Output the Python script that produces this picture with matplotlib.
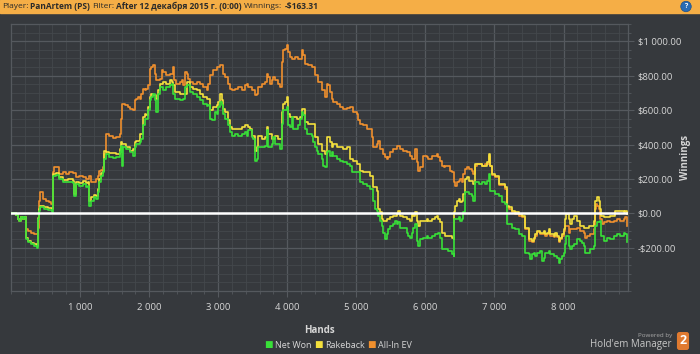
import matplotlib.pyplot as plt
from matplotlib.ticker import MultipleLocator, FuncFormatter, FixedLocator

plt.rcParams['font.family'] = ['Open Sans', 'DejaVu Sans']

# Net Won
net_hands = [0, 72, 97, 121, 145, 169, 193, 217, 242, 290, 338, 377, 396, 411, 420, 483, 531, 589,
             604, 652, 700, 749, 821, 894, 918, 942, 990, 1038, 1087, 1120, 1135, 1159, 1208, 1232,
             1256, 1280, 1304, 1328, 1352, 1376, 1425, 1478, 1527, 1575, 1599, 1609, 1623, 1672,
             1720, 1768, 1792, 1816, 1865, 1889, 1913, 1937, 1985, 2010, 2034, 2058, 2082, 2106,
             2130, 2155, 2203, 2251, 2299, 2324, 2348, 2372, 2444, 2493, 2517, 2541, 2589, 2638,
             2686, 2734, 2782, 2831, 2855, 2879, 2903, 2951, 2976, 3000, 3024, 3049, 3073, 3097,
             3145, 3169, 3194, 3242, 3290, 3338, 3387, 3411, 3435, 3483, 3507, 3532, 3556, 3580,
             3652, 3677, 3701, 3725, 3773, 3797, 3821, 3894, 3918, 3942, 3990, 4015, 4039, 4063,
             4087, 4160, 4184, 4208, 4232, 4256, 4280, 4353, 4377, 4401, 4425, 4449, 4498, 4522,
             4546, 4571, 4595, 4619, 4643, 4667, 4716, 4764, 4812, 4860, 4909, 4933, 5005, 5054,
             5102, 5150, 5199, 5247, 5271, 5295, 5319, 5343, 5368, 5392, 5416, 5440, 5464, 5488,
             5537, 5561, 5585, 5609, 5633, 5706, 5730, 5754, 5778, 5802, 5826, 5851, 5875, 5899,
             5923, 5971, 6020, 6044, 6093, 6141, 6189, 6213, 6238, 6286, 6334, 6382, 6407, 6421,
             6479, 6503, 6527, 6551, 6566, 6624, 6672, 6696, 6721, 6769, 6817, 6865, 6890, 6914,
             6938, 7010, 7059, 7107, 7155, 7179, 7252, 7300, 7348, 7397, 7445, 7493, 7517, 7542,
             7565, 7589, 7614, 7662, 7686, 7710, 7734, 7783, 7807, 7855, 7903, 7928, 7952, 7976,
             8000, 8024, 8039, 8073, 8097, 8121, 8145, 8193, 8242, 8266, 8290, 8314, 8386, 8435,
             8459, 8483, 8531, 8546, 8580, 8628, 8676, 8725, 8773, 8821, 8869, 8893, 8918]
net_won = [0, -10, -33, -43, -23, -33, -23, -150, -165, -179, -188, -198, -33, 16, 35, 25, 21, 10,
           219, 223, 200, 181, 184, 177, 103, 171, 161, 171, 151, 161, 45, 74, 93, 84,
           122, 181, 219, 239, 317, 346, 326, 320, 326, 355, 394, 278, 385, 375,
           355, 336, 385, 404, 414, 433, 511, 550, 598, 656, 676, 695, 656, 588,
           695, 734, 715, 734, 744, 754, 695, 666, 656, 666, 734, 744, 705, 695,
           676, 656, 637, 623, 627, 550, 540, 588, 579, 618, 647, 627, 579, 550,
           511, 472, 452, 462, 452, 462, 472, 452, 482, 443, 433, 307, 317, 385,
           385, 394, 482, 385, 404, 443, 404, 375, 520, 598, 618, 511, 501, 559,
           491, 511, 550, 588, 569, 491, 462, 452, 414, 385, 365, 346, 317, 278,
           268, 355, 365, 336, 355, 336, 317, 307, 297, 287, 278, 239, 239, 181,
           171, 161, 142, 74, 25, 16, -14, -43, -72, -111, -150, -120, -91, -72,
           -62, -43, -62, -52, -82, -82, -111, -130, -140, -111, -82, -62, -159, -188,
           -150, -140, -130, -140, -130, -120, -111, -140, -208, -208, -218, -237, -247, -33,
           -23, -43, -33, 6, 122, 113, 103, 74, 181, 171, 181, 171, 190, 229,
           132, 113, 103, 64, 54, -62, -82, -91, -120, -130, -227, -237, -266, -237,
           -227, -247, -227, -218, -276, -256, -227, -218, -237, -247, -256, -285, -266, -247,
           -227, -179, -130, -188, -208, -188, -179, -150, -159, -169, -188, -227, -208, -188,
           -72, -52, -43, -130, -159, -140, -150, -130, -120, -130, -111, -120, -163.31]

# Rakeback
rb_hands = [0, 72, 97, 121, 145, 169, 193, 217, 242, 290, 338, 377, 396, 411, 420, 483, 531, 589,
            604, 652, 700, 749, 821, 894, 918, 942, 990, 1038, 1087, 1120, 1135, 1159, 1208, 1232,
            1256, 1280, 1304, 1328, 1352, 1376, 1425, 1478, 1527, 1575, 1599, 1609, 1623, 1672,
            1720, 1768, 1792, 1816, 1865, 1889, 1913, 1937, 1961, 1985, 2010, 2034, 2058, 2106,
            2130, 2155, 2203, 2251, 2299, 2324, 2348, 2372, 2444, 2493, 2541, 2589, 2638, 2686,
            2734, 2782, 2831, 2879, 2927, 2976, 3000, 3024, 3049, 3073, 3097, 3145, 3169, 3194,
            3242, 3290, 3338, 3387, 3435, 3459, 3483, 3532, 3556, 3580, 3628, 3677, 3701, 3725,
            3773, 3821, 3869, 3918, 3942, 3966, 3990, 4015, 4039, 4087, 4136, 4184, 4208, 4256,
            4304, 4353, 4401, 4449, 4498, 4546, 4571, 4595, 4619, 4643, 4667, 4716, 4764, 4812,
            4860, 4909, 4957, 5005, 5054, 5102, 5150, 5199, 5247, 5295, 5319, 5343, 5368, 5392,
            5440, 5488, 5537, 5585, 5609, 5633, 5682, 5730, 5778, 5802, 5826, 5851, 5875, 5899,
            5923, 6020, 6044, 6093, 6141, 6165, 6189, 6213, 6238, 6286, 6382, 6407, 6421, 6431,
            6455, 6479, 6503, 6527, 6551, 6576, 6600, 6624, 6696, 6721, 6817, 6890, 6914, 6938,
            6962, 7010, 7059, 7155, 7179, 7204, 7252, 7300, 7348, 7397, 7445, 7493, 7542, 7565,
            7589, 7614, 7662, 7710, 7734, 7758, 7783, 7807, 7855, 7879, 7903, 7928, 7952, 7976,
            8000, 8024, 8039, 8073, 8097, 8121, 8145, 8193, 8242, 8290, 8362, 8435, 8449, 8483,
            8507, 8531, 8546, 8580, 8628, 8676, 8749, 8821, 8869, 8893, 8918]
rakeback = [0, -10, -33, -40, -23, -33, -23, -140, -160, -172, -180, -190, -25, 25, 41, 35, 33, 25,
            229, 235, 210, 196, 200, 190, 113, 184, 177, 188, 177, 181, 74, 93, 107, 103,
            142, 200, 235, 249, 365, 355, 351, 351, 346, 375, 414, 404, 404, 385,
            365, 375, 414, 423, 462, 462, 559, 579, 569, 618, 676, 695, 686, 666,
            715, 754, 763, 754, 773, 763, 744, 705, 695, 695, 763, 734, 724, 715,
            695, 676, 666, 598, 618, 627, 647, 695, 656, 608, 588, 540, 501, 491,
            491, 491, 501, 511, 501, 491, 452, 365, 385, 452, 433, 443, 501, 462,
            433, 452, 433, 588, 637, 647, 676, 579, 559, 559, 550, 559, 608, 530,
            520, 520, 443, 404, 365, 346, 443, 443, 414, 385, 404, 385, 385, 375,
            385, 317, 307, 287, 249, 239, 239, 219, 151, 132, 25, 6, -33, -43,
            -33, -23, -14, -4, 16, -14, -23, -33, -43, -4, -14, 6, -43, -72,
            -43, -33, -43, -33, -23, -14, -33, -52, -111, -130, -140, -150, 6, 45,
            74, 84, 64, 74, 113, 200, 210, 190, 171, 287, 278, 297, 346, 278,
            229, 219, 171, 151, 45, 35, 16, 6, -4, -14, -82, -150, -159, -140,
            -120, -101, -111, -101, -120, -111, -91, -120, -130, -111, -130, -159, -140, -120,
            -91, -33, -4, -33, -62, -33, -14, -43, -72, -82, -72, -43, 74, 93,
            74, 25, -14, -23, -23, -14, 16, 16, 6, 16, -4]

# All-In EV
ev_hands = [0, 72, 97, 121, 145, 169, 193, 217, 242, 290, 338, 377, 396, 411, 420, 459, 507, 555,
            580, 604, 628, 676, 700, 749, 797, 845, 894, 942, 990, 1038, 1087, 1135, 1159, 1208,
            1232, 1256, 1280, 1304, 1328, 1352, 1376, 1425, 1478, 1527, 1575, 1599, 1614, 1647,
            1696, 1720, 1768, 1792, 1816, 1841, 1865, 1889, 1913, 1937, 1961, 1985, 2010, 2034,
            2058, 2082, 2106, 2155, 2179, 2203, 2251, 2299, 2348, 2362, 2396, 2444, 2469, 2493,
            2517, 2541, 2565, 2589, 2638, 2686, 2734, 2782, 2831, 2855, 2879, 2927, 2976, 3000,
            3024, 3049, 3073, 3097, 3145, 3169, 3194, 3242, 3290, 3338, 3387, 3411, 3435, 3483,
            3532, 3556, 3580, 3628, 3677, 3701, 3725, 3749, 3773, 3797, 3821, 3869, 3894, 3918,
            3942, 3966, 3990, 4015, 4039, 4063, 4111, 4160, 4208, 4232, 4256, 4304, 4353, 4401,
            4449, 4498, 4546, 4571, 4595, 4619, 4643, 4667, 4716, 4764, 4812, 4860, 4909, 4957,
            5005, 5029, 5054, 5102, 5150, 5199, 5223, 5247, 5295, 5319, 5343, 5392, 5416, 5440,
            5464, 5488, 5537, 5585, 5633, 5682, 5730, 5778, 5802, 5851, 5875, 5899, 5923, 5971,
            6020, 6044, 6093, 6141, 6165, 6189, 6213, 6238, 6262, 6286, 6334, 6358, 6382, 6407,
            6431, 6455, 6479, 6503, 6527, 6551, 6576, 6600, 6624, 6672, 6696, 6721, 6745, 6769,
            6817, 6865, 6914, 6938, 6962, 7010, 7059, 7155, 7179, 7204, 7252, 7300, 7348, 7397,
            7445, 7493, 7542, 7565, 7589, 7614, 7662, 7710, 7734, 7758, 7783, 7807, 7855, 7879,
            7903, 7928, 7952, 7976, 8000, 8024, 8073, 8097, 8145, 8193, 8242, 8290, 8314, 8338,
            8386, 8435, 8449, 8468, 8483, 8507, 8531, 8555, 8580, 8628, 8676, 8725, 8773, 8821,
            8869, 8893, 8918]
allin_ev = [0, -10, -33, -43, -23, -33, -23, -91, -101, -111, -120, -120, -82, 74, 122, 84, 74, 68,
            54, 239, 268, 272, 229, 239, 229, 239, 233, 210, 219, 210, 200, 219, 181, 181,
            200, 219, 249, 254, 268, 346, 462, 452, 439, 443, 462, 550, 637, 627,
            618, 608, 598, 656, 666, 676, 666, 695, 724, 715, 724, 744, 841, 851,
            860, 812, 773, 783, 831, 821, 802, 812, 851, 773, 754, 763, 773, 744,
            821, 812, 783, 763, 754, 763, 754, 734, 715, 754, 802, 831, 851, 851,
            860, 860, 812, 792, 754, 724, 715, 724, 734, 715, 744, 754, 734, 715,
            686, 695, 734, 754, 763, 812, 792, 754, 773, 792, 773, 754, 734, 880,
            948, 957, 977, 938, 909, 899, 909, 899, 948, 919, 870, 860, 851, 802,
            763, 715, 676, 754, 744, 705, 666, 647, 637, 618, 608, 612, 618, 588,
            579, 540, 520, 511, 491, 491, 443, 385, 404, 423, 375, 346, 326, 317,
            326, 355, 375, 394, 375, 365, 355, 336, 317, 375, 297, 249, 268, 336,
            326, 317, 336, 336, 346, 326, 307, 278, 268, 278, 278, 249, 239, 181,
            161, 181, 190, 200, 181, 229, 258, 268, 258, 249, 229, 278, 287, 287,
            278, 287, 336, 278, 221, 211, 163, 143, 37, 27, 8, -2, -12, -22,
            -90, -158, -167, -148, -128, -109, -119, -109, -128, -119, -99, -128, -138, -119,
            -138, -167, -148, -128, -99, -72, -111, -91, -91, -82, -101, -111, -140, -130,
            -120, -91, 25, 54, 45, 25, -33, -62, -52, -43, -52, -43, -33, -43,
            -33, -23, -72]

x_ticks = [1000, 2000, 3000, 4000, 5000, 6000, 7000, 8000]
y_ticks = [-200, 0, 200, 400, 600, 800, 1000]

bg = '#36393d'
text_col = '#d6d6d6'

fig = plt.figure(figsize=(7, 3.54), dpi=100, facecolor=bg)
ax = fig.add_axes([11 / 700, 1 - 291 / 354, 617 / 700, 267 / 354])
ax.set_facecolor(bg)

ax.plot(ev_hands, allin_ev, color='#f0902e', lw=1.2, drawstyle='steps-post', zorder=3)
ax.plot(rb_hands, rakeback, color='#f4e03c', lw=1.2, drawstyle='steps-post', zorder=4)
ax.plot(net_hands, net_won, color='#38e038', lw=1.2, drawstyle='steps-post', zorder=5)
ax.axhline(0, color='white', lw=1.8, zorder=6)

ax.set_xlim(0, 8933)
ax.set_ylim(-450, 1100)

ax.xaxis.set_major_locator(FixedLocator(x_ticks))
ax.xaxis.set_minor_locator(MultipleLocator(200))
ax.yaxis.set_major_locator(FixedLocator(y_ticks))
ax.yaxis.set_minor_locator(MultipleLocator(50))
ax.xaxis.set_major_formatter(FuncFormatter(lambda v, p: f'{int(v):,}'.replace(',', ' ')))


def money(v, p):
    s = f'{abs(v):,.2f}'.replace(',', ' ')
    return ('-$' if v < 0 else '$') + s


ax.yaxis.set_major_formatter(FuncFormatter(money))
ax.yaxis.tick_right()
ax.yaxis.set_label_position('right')

ax.grid(which='major', color='#55595e', lw=0.9)
ax.grid(which='minor', color='#44484c', lw=0.6)
ax.set_axisbelow(True)
for s in ax.spines.values():
    s.set_color('#55595e')
    s.set_linewidth(0.9)

ax.tick_params(which='both', colors='#55595e', labelcolor=text_col, labelsize=6.8)
ax.tick_params(which='major', length=4, pad=3)
ax.tick_params(which='minor', length=2.5)
ax.tick_params(axis='x', pad=5)

ax.set_xlabel('Hands', color=text_col, fontsize=7, fontweight='bold', labelpad=9)
ax.set_ylabel('Winnings', color=text_col, fontsize=7, fontweight='bold', labelpad=-1)

fig.canvas.draw()
rend = fig.canvas.get_renderer()


def row(items, x0, y, gap, size, color):
    # places texts one after another, measuring each
    x = x0
    for t, w, c in items:
        txt = fig.text(x / 700, y, t, fontsize=size, fontweight=w, color=c or color, va='center')
        x = txt.get_window_extent(rend).x1 + gap
    return x


# header bar
fig.patches.append(plt.Rectangle((0, 1 - 13 / 354), 1, 13 / 354, transform=fig.transFigure,
                                 color='#f5ae46', zorder=0))
hy = 1 - 6.5 / 354
row([('Player:', 'normal', None), ('PanArtem (PS)', 'bold', None), ('Filter:', 'normal', None),
     ('After 12 декабря 2015 г. (0:00)', 'bold', None), ('Winnings:', 'normal', None),
     ('-$163.31', 'bold', None)], 2, hy, 2, 6, '#2a2a2a')
fig.text(686 / 700, hy, '?', fontsize=5, fontweight='bold', color='white', ha='center', va='center',
         bbox=dict(boxstyle='circle,pad=0.25', fc='#2b6cb3', ec='#1d4f88', lw=0.5))

# legend
ly = 1 - 345 / 354
row([('■', 'normal', '#38e038'), ('Net Won', 'normal', None), ('■', 'normal', '#f4e03c'),
     ('Rakeback', 'normal', None), ('■', 'normal', '#f0902e'), ('All-In EV', 'normal', None)],
    264, ly, 2.5, 6.5, text_col)

# powered by
fig.text(672 / 700, 1 - 335 / 354, 'Powered by', fontsize=4.5, color='#a8a8a8', ha='right', va='center')
fig.text(672 / 700, 1 - 344 / 354, "Hold'em Manager", fontsize=7, color='#c8c8c8', ha='right', va='center')
fig.text(683 / 700, 1 - 341 / 354, '2', fontsize=9, fontweight='bold', color='white', ha='center',
         va='center', bbox=dict(boxstyle='round,pad=0.2', fc='#e07a30', ec='none'))

fig.savefig('out.png', dpi=100, facecolor=bg)
